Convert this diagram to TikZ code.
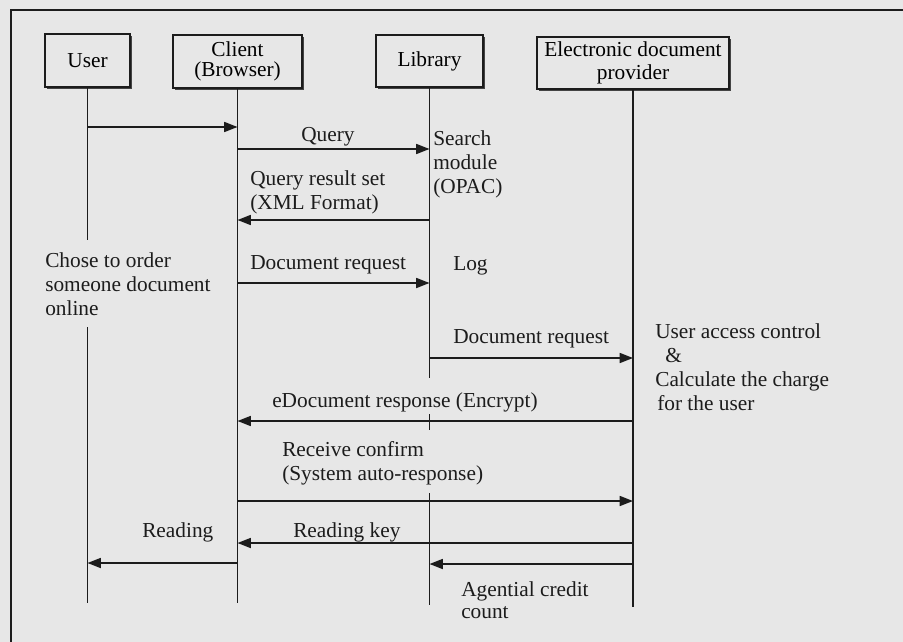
\documentclass[tikz,border=0pt]{standalone}
\usepackage{fontspec}
\setmainfont{Liberation Serif}
\usetikzlibrary{arrows.meta,shadows}
\definecolor{paper}{RGB}{231,231,231}
\definecolor{ink}{RGB}{28,28,28}
\begin{document}
\begin{tikzpicture}[x=0.75pt,y=-0.75pt,
  font=\fontsize{16}{18}\selectfont,
  actor/.style={draw=ink, line width=0.8pt, fill=paper, inner sep=0pt, align=center,
    drop shadow={shadow xshift=1.5pt,shadow yshift=-1.5pt,fill=ink,opacity=0.8}},
  life/.style={draw=ink,line width=1.2pt},
  msg/.style={draw=ink,line width=1.2pt,-{Triangle[length=10pt,width=7.5pt]}},
  lbl/.style={text=ink, inner sep=0pt, anchor=base west, align=left},
]
% page and frame
\useasboundingbox (0,0) rectangle (903,642);
\fill[paper] (-6,-6) rectangle (910,650);
\draw[ink,line width=1.4pt] (912,10) -- (11,10) -- (11,652);

% participants
\node[actor, minimum width={85*0.75pt}, minimum height={53*0.75pt}] (user) at (87.5,60.5) {User};
\node[actor, minimum width={129*0.75pt}, minimum height={53*0.75pt},
  font=\fontsize{16}{15}\selectfont] (client) at (237.5,61.5) {Client\\(Browser)};
\node[actor, minimum width={107*0.75pt}, minimum height={52*0.75pt}] (library) at (429.5,61) {Library};
\node[actor, minimum width={192*0.75pt}, minimum height={52*0.75pt},
  font=\fontsize{16}{17}\selectfont] (provider) at (633,63) {Electronic document\\provider};

% lifelines
\draw[life] (user.south) -- (user |- 0,240);
\draw[life] (user |- 0,327) -- (user |- 0,603);
\draw[life] (client.south) -- (client |- 0,603);
\draw[life] (library.south) -- (library |- 0,378);
\draw[life] (library |- 0,414) -- (library |- 0,430);
\draw[life] (library |- 0,493) -- (library |- 0,605);
\draw[life] (provider.south) -- (provider |- 0,607);

% messages
\draw[msg] (user |- 0,127) -- (client |- 0,127);
\draw[msg] (client |- 0,149) -- (library |- 0,149);
\draw[msg] (library |- 0,220) -- (client |- 0,220);
\draw[msg] (client |- 0,283) -- (library |- 0,283);
\draw[msg] (library |- 0,358) -- (provider |- 0,358);
\draw[msg] (provider |- 0,421) -- (client |- 0,421);
\draw[msg] (client |- 0,501) -- (provider |- 0,501);
\draw[msg] (provider |- 0,543) -- (client |- 0,543);
\draw[msg] (provider |- 0,564) -- (library |- 0,564);
\draw[msg] (client |- 0,563) -- (user |- 0,563);

% labels (multi-line labels are placed by the baseline of their last line)
\node[lbl] (tQuery) at (301,141) {Query};
\node[lbl] (tResult) at (250,209) {Query result set\\(XML Format)};
\node[lbl] (tReq1) at (250,269) {Document request};
\node[lbl] (tOrder) at (45,315) {Chose to order\\someone document\\online};
\node[lbl] (tSearch) at (433,193) {Search\\module\\(OPAC)};
\node[lbl] (tLog) at (453,270) {Log};
\node[lbl] (tReq2) at (453,343) {Document request};
\node[lbl] (tCtrl) at (655,410) {User access control\\\hspace*{7.5pt}\&\\Calculate the charge\\\hspace*{1.5pt}for the user};
\node[lbl] (tResp) at (272,407) {eDocument response (Encrypt)};
\node[lbl] (tConf) at (282,480) {Receive confirm\\(System auto-response)};
\node[lbl] (tKey) at (293,537) {Reading key};
\node[lbl] (tRead) at (142,537) {Reading};
\node[lbl, font=\fontsize{16}{16.5}\selectfont] (tCredit) at (461,618) {Agential credit\\count};
\end{tikzpicture}
\end{document}
